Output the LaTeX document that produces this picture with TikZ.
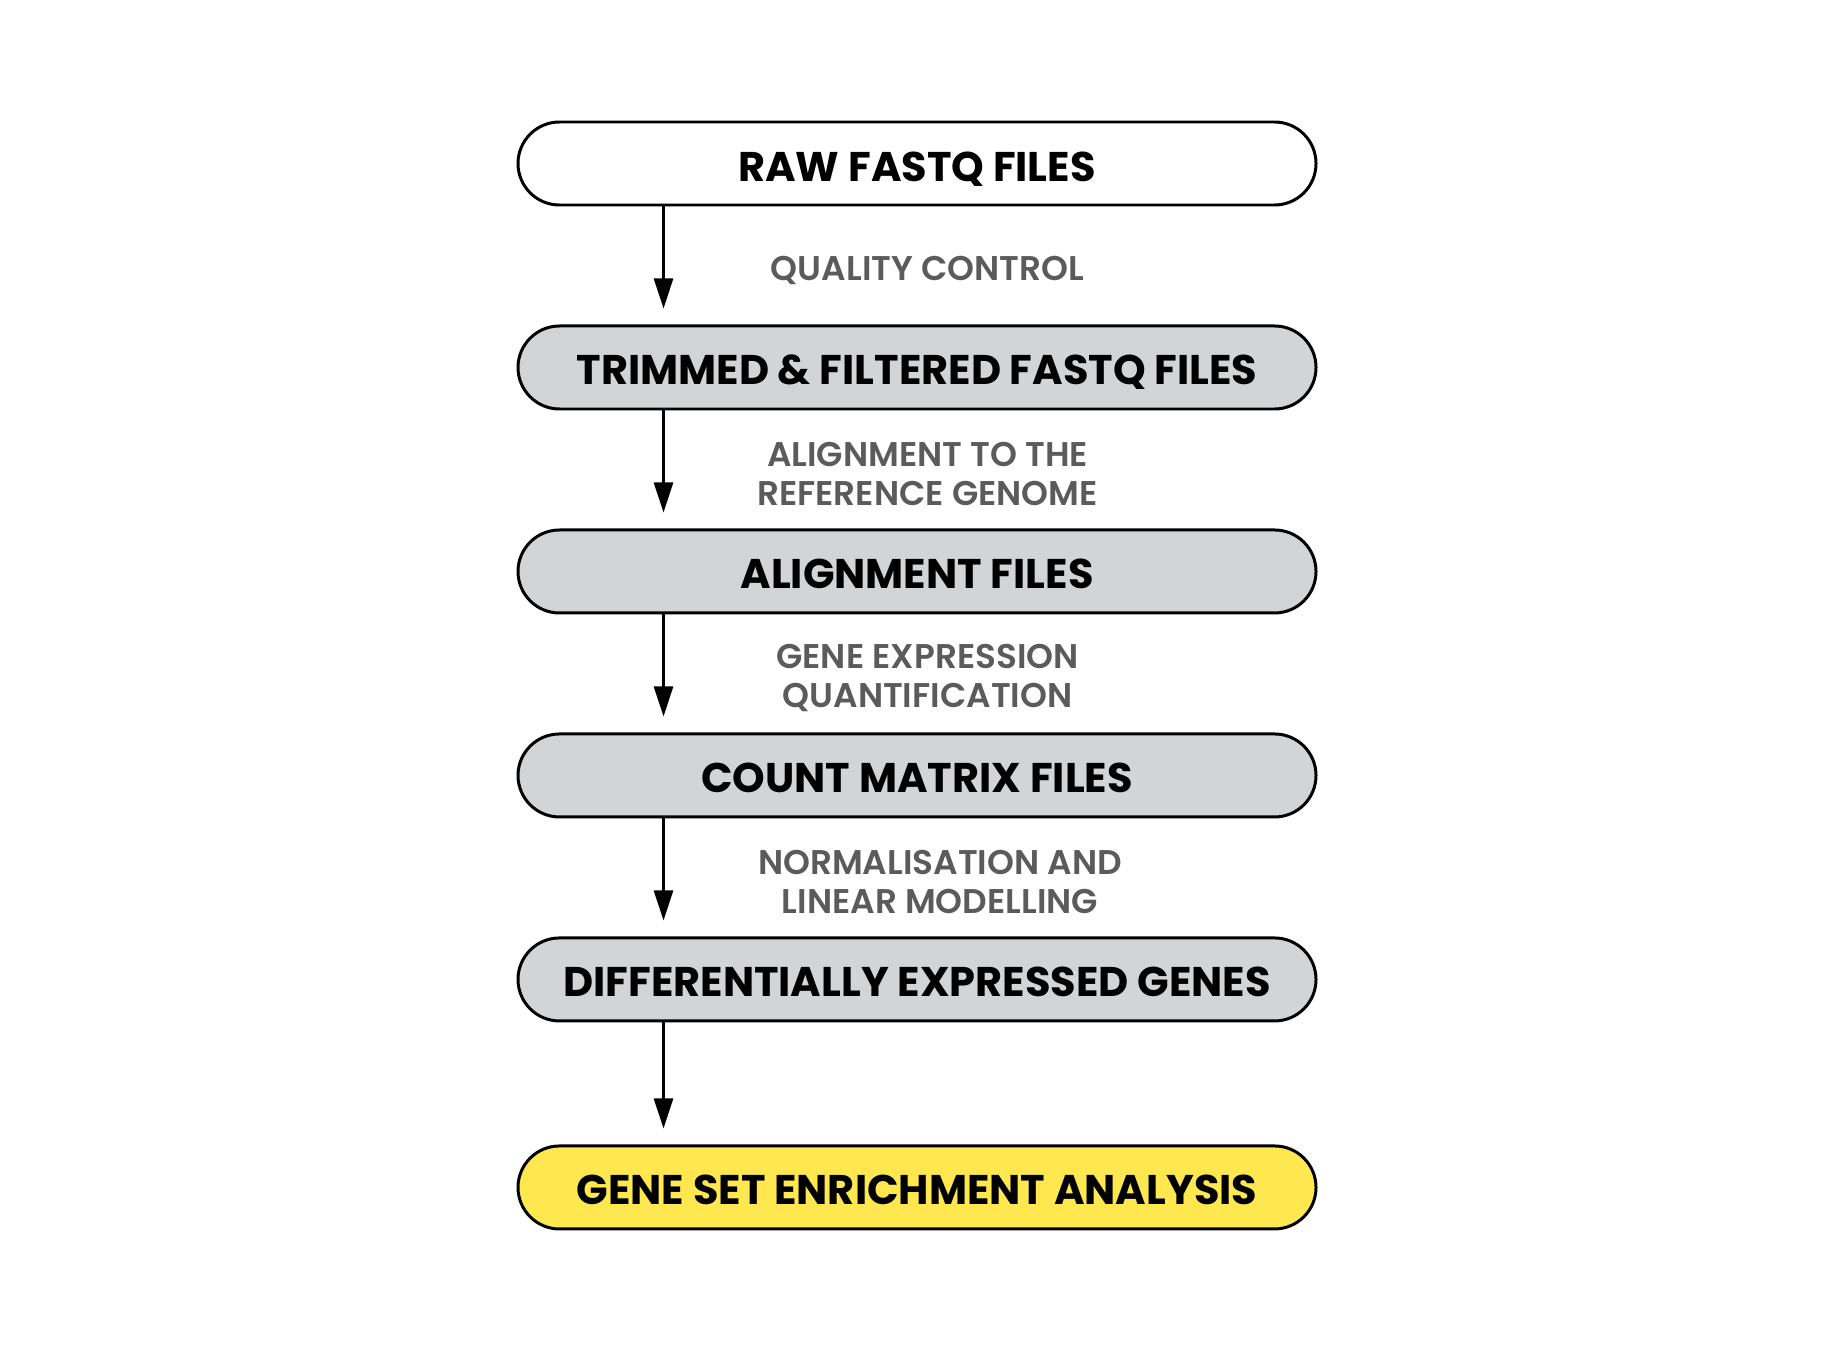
\documentclass[tikz,border=0pt]{standalone}
\usepackage{fontspec}
\setmainfont{Poppins}
\newfontfamily\labelfont{Poppins SemiBold}
\usetikzlibrary{positioning,calc,arrows.meta}
\definecolor{boxgray}{HTML}{D3D4D6}
\definecolor{gseayellow}{HTML}{FFE84F}
\definecolor{labelgray}{HTML}{5B5B5B}
\tikzstyle{stage}=[draw=black, line width=0.85pt, rounded corners=0.415cm,
    minimum width=7.98cm, minimum height=0.83cm, inner sep=0pt,
    text height=0.35cm, text depth=0pt,
    font=\fontsize{11.8}{14}\selectfont\bfseries, fill=boxgray]
\tikzstyle{step label}=[align=center, text=labelgray,
    font=\labelfont\fontsize{9.75}{11.3}\selectfont]
\tikzstyle{flow}=[line width=0.75pt, -{Triangle[length=0.3cm,width=0.19cm]}, shorten >=0.16cm]

\begin{document}
\begin{tikzpicture}[node distance=1.18cm]
  \useasboundingbox (0,0) rectangle (18.34,-13.51);
  \node[stage, fill=white] (raw) at (9.17,-1.635) {RAW FASTQ FILES};
  \node[stage, below=of raw] (trim) {TRIMMED \& FILTERED FASTQ FILES};
  \node[stage, below=of trim] (bam) {ALIGNMENT FILES};
  \node[stage, below=of bam] (counts) {COUNT MATRIX FILES};
  \node[stage, below=of counts] (deg) {DIFFERENTIALLY EXPRESSED GENES};
  \node[stage, fill=gseayellow, below=1.22cm of deg] (gsea) {GENE SET ENRICHMENT ANALYSIS};

  % arrows between the stages
  \foreach \a/\b in {raw/trim, trim/bam, bam/counts, counts/deg, deg/gsea}
    \draw[flow] ([xshift=1.47cm]\a.south west) -- ([xshift=1.47cm]\b.north west);

  % step labels
  \node[step label] (qc) at ($(raw.south)!0.5!(trim.north)+(0.105,-0.045)$) {QUALITY CONTROL};
  \node[step label] (align) at ($(trim.south)!0.5!(bam.north)+(0.105,-0.045)$) {ALIGNMENT TO THE\\REFERENCE GENOME};
  \node[step label] (quant) at ($(bam.south)!0.5!(counts.north)+(0.105,-0.045)$) {GENE EXPRESSION\\QUANTIFICATION};
  \node[step label] (norm) at ($(counts.south)!0.5!(deg.north)+(0.23,-0.045)$) {NORMALISATION AND\\LINEAR MODELLING};
\end{tikzpicture}
\end{document}
